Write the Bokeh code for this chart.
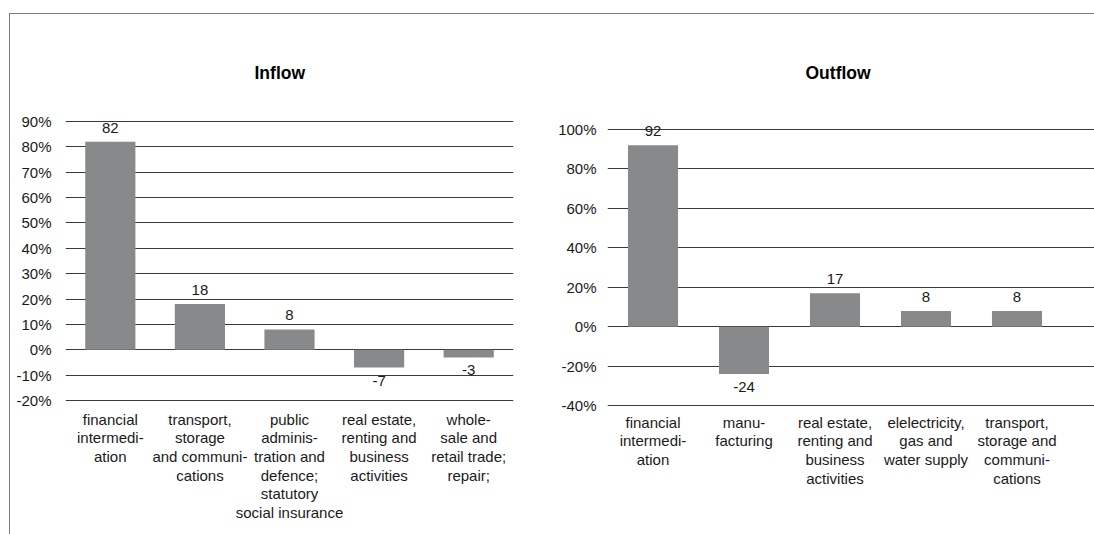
from bokeh.plotting import figure
from bokeh.models import Range1d, FixedTicker, PrintfTickFormatter, ColumnDataSource, Title
from bokeh.layouts import row
from bokeh.core.properties import value, field
from bokeh.embed import file_html
from bokeh.resources import INLINE

# ---- data ----
inflow_title = "Inflow"
inflow_categories = [
    "financial\nintermedi-\nation",
    "transport,\nstorage\nand communi-\ncations",
    "public\nadminis-\ntration and\ndefence;\nstatutory\nsocial insurance",
    "real estate,\nrenting and\nbusiness\nactivities",
    "whole-\nsale and\nretail trade;\nrepair;",
]
inflow_values = [82, 18, 8, -7, -3]
inflow_ticks = [-20, -10, 0, 10, 20, 30, 40, 50, 60, 70, 80, 90]

outflow_title = "Outflow"
outflow_categories = [
    "financial\nintermedi-\nation",
    "manu-\nfacturing",
    "real estate,\nrenting and\nbusiness\nactivities",
    "elelectricity,\ngas and\nwater supply",
    "transport,\nstorage and\ncommuni-\ncations",
]
outflow_values = [92, -24, 17, 8, 8]
outflow_ticks = [-40, -20, 0, 20, 40, 60, 80, 100]

FONT = "Liberation Sans"
TXT = "#1a1a1a"
BAR = "#88898b"
GRID = "#3a3a3a"


def make_panel(title, cats, vals, ticks, width, height, x_end, y_range,
               bl, br, bt, bb, bar_w, title_offset, label_standoff, x_standoff):
    n = len(cats)
    p = figure(width=width, height=height, output_backend="svg", toolbar_location=None,
               x_range=Range1d(0.5, x_end), y_range=Range1d(*y_range),
               min_border_left=bl, min_border_right=br, min_border_top=bt, min_border_bottom=bb)
    p.outline_line_color = None
    p.background_fill_color = "white"
    p.border_fill_color = "white"
    xs = list(range(1, n + 1))
    src = ColumnDataSource(dict(
        x=xs, top=vals, label=[str(v) for v in vals],
        vbase=["bottom" if v >= 0 else "top" for v in vals],
        yoff=[-9 if v >= 0 else 8 for v in vals],
    ))
    p.vbar(x="x", top="top", bottom=0, width=bar_w, source=src,
           fill_color=BAR, line_color=None)
    p.text(x="x", y="top", text="label", source=src, text_align="center",
           text_baseline=field("vbase"), y_offset="yoff",
           text_font=value(FONT), text_font_size="15px", text_color=TXT)

    p.xgrid.visible = False
    p.ygrid.ticker = FixedTicker(ticks=ticks)
    p.ygrid.grid_line_color = GRID
    p.ygrid.grid_line_width = 1

    ya = p.yaxis[0]
    ya.ticker = FixedTicker(ticks=ticks)
    ya.formatter = PrintfTickFormatter(format="%d%%")
    ya.axis_line_color = None
    ya.major_tick_line_color = None
    ya.minor_tick_line_color = None
    ya.major_label_standoff = label_standoff
    ya.major_label_text_font = FONT
    ya.major_label_text_font_size = "15px"
    ya.major_label_text_color = TXT

    xa = p.xaxis[0]
    xa.ticker = FixedTicker(ticks=xs)
    xa.major_label_overrides = {i: c for i, c in zip(xs, cats)}
    xa.axis_line_color = None
    xa.major_tick_line_color = None
    xa.minor_tick_line_color = None
    xa.major_label_standoff = x_standoff
    xa.major_label_text_font = FONT
    xa.major_label_text_font_size = "15px"
    xa.major_label_text_color = TXT
    xa.major_label_text_line_height = 1.10

    p.title = Title(text=title, align="left", offset=title_offset, standoff=67,
                    text_font=FONT, text_font_style="bold", text_font_size="17.5px",
                    text_color="black")
    return p


p1 = make_panel(inflow_title, inflow_categories, inflow_values, inflow_ticks,
                width=535, height=520, x_end=5.5, y_range=(-22.76, 91.97),
                bl=55, br=32, bt=102, bb=127, bar_w=0.56,
                title_offset=189, label_standoff=8, x_standoff=-3)
p2 = make_panel(outflow_title, outflow_categories, outflow_values, outflow_ticks,
                width=549, height=520, x_end=0.5 + 487 / 91, y_range=(-41.0, 106.6),
                bl=62, br=0, bt=102, bb=127, bar_w=0.55,
                title_offset=198, label_standoff=5, x_standoff=0)

layout = row(p1, p2, margin=(13, 0, 0, 9),
             styles={"border-left": "1px solid #7a7a7a", "border-top": "1px solid #7a7a7a"})

open("out.html", "w").write(file_html(layout, INLINE))
